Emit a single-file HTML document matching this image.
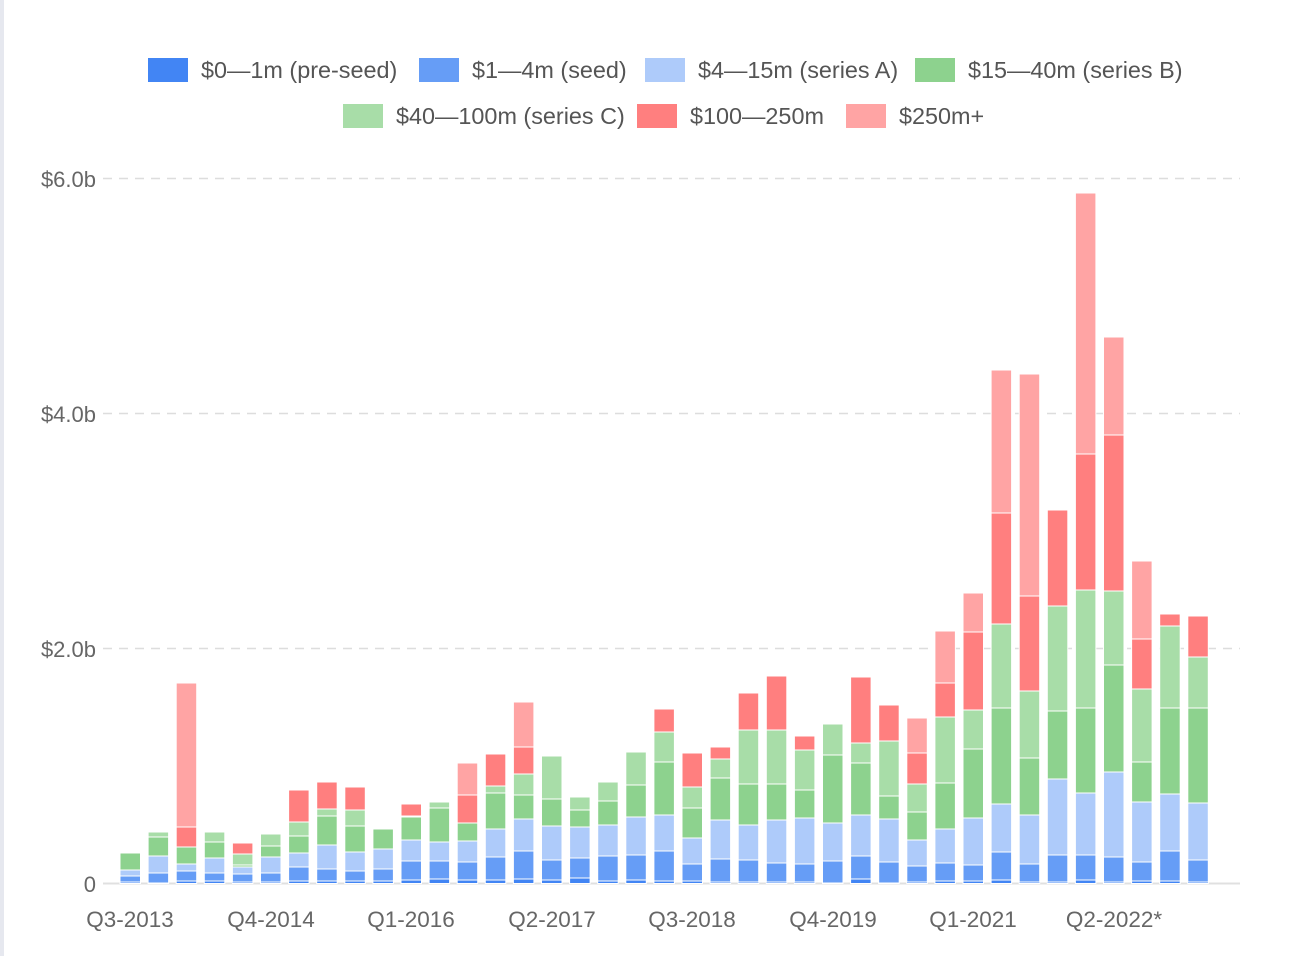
<!DOCTYPE html>
<html><head><meta charset="utf-8"><style>
html,body{margin:0;padding:0;background:#fff;}
body{width:1290px;height:956px;overflow:hidden;position:relative;font-family:"Liberation Sans",sans-serif;}
#edge{position:absolute;left:0;top:0;width:4px;height:956px;background:#e6e8ef;}
</style></head><body>
<div id="edge"></div>
<svg id="c" width="1290" height="956" xmlns="http://www.w3.org/2000/svg" style="position:absolute;left:0;top:0">
<g font-family="Liberation Sans, sans-serif" font-size="23.4" fill="#555">
<rect x="148" y="58" width="40" height="24" fill="#4285f4"/><text x="201" y="78">$0—1m (pre-seed)</text>
<rect x="419" y="58" width="40" height="24" fill="#669df6"/><text x="472" y="78">$1—4m (seed)</text>
<rect x="645" y="58" width="40" height="24" fill="#aecbfa"/><text x="698" y="78">$4—15m (series A)</text>
<rect x="915" y="58" width="40" height="24" fill="#8dd28e"/><text x="968" y="78">$15—40m (series B)</text>
<rect x="343" y="104" width="40" height="24" fill="#a8dda8"/><text x="396" y="124">$40—100m (series C)</text>
<rect x="637" y="104" width="40" height="24" fill="#ff7f7f"/><text x="690" y="124">$100—250m</text>
<rect x="846" y="104" width="40" height="24" fill="#ffa4a4"/><text x="899" y="124">$250m+</text>
</g>
<g stroke="#dddddd" stroke-width="1.5" stroke-dasharray="9,7">
<line x1="103" y1="178.5" x2="1240" y2="178.5"/>
<line x1="103" y1="413.5" x2="1240" y2="413.5"/>
<line x1="103" y1="648.5" x2="1240" y2="648.5"/>
</g>
<line x1="103" y1="883.5" x2="1240" y2="883.5" stroke="#e0e0e0" stroke-width="2"/>
<g font-family="Liberation Sans, sans-serif" font-size="22" fill="#666" text-anchor="end">
<text x="96" y="187">$6.0b</text>
<text x="96" y="422">$4.0b</text>
<text x="96" y="657">$2.0b</text>
<text x="96" y="892">0</text>
</g>
<g id="bars"></g>
<g font-family="Liberation Sans, sans-serif" font-size="22.5" fill="#666" text-anchor="middle">
<text x="130" y="927">Q3-2013</text>
<text x="271" y="927">Q4-2014</text>
<text x="411" y="927">Q1-2016</text>
<text x="552" y="927">Q2-2017</text>
<text x="692" y="927">Q3-2018</text>
<text x="833" y="927">Q4-2019</text>
<text x="973" y="927">Q1-2021</text>
<text x="1114" y="927">Q2-2022*</text>
</g>
</svg>
<script>
var cols=["#4285f4","#669df6","#aecbfa","#8dd28e","#a8dda8","#ff7f7f","#ffa4a4"];
var d=[
[882,876,870,853,852,852,852],
[883,873,856,837,832,832,832],
[881,871,864,847,847,827,683],
[881,873,858,842,832,832,832],
[882,874,867,865,854,843,842],
[882,873,857,846,834,834,834],
[881,867,853,836,822,790,789],
[881,869,845,816,809,782,781],
[881,871,852,826,810,787,786],
[881,869,849,829,828,828,828],
[880,861,840,817,816,804,803],
[879,861,842,808,802,802,801],
[880,862,841,823,823,795,763],
[880,857,829,793,786,754,754],
[879,851,819,795,774,747,702],
[880,860,826,799,756,756,756],
[878,858,827,810,797,797,797],
[881,856,825,801,782,782,782],
[880,855,817,785,752,752,752],
[881,851,815,762,732,709,709],
[881,864,838,808,787,753,753],
[882,859,820,778,759,747,747],
[882,860,825,784,730,693,693],
[882,863,820,784,730,676,676],
[882,864,818,790,750,736,736],
[883,861,823,755,724,724,724],
[879,856,815,763,743,677,676],
[883,862,819,796,741,705,705],
[882,866,840,812,784,753,718],
[881,863,829,783,717,683,631],
[881,865,818,749,710,632,593],
[880,852,804,708,624,513,370],
[882,864,815,758,691,596,374],
[882,855,779,711,606,510,510],
[880,855,793,708,590,454,193],
[882,857,772,665,591,435,337],
[881,862,802,762,689,639,561],
[881,851,794,708,626,614,614],
[882,860,803,708,657,616,616]];
var g=document.getElementById("bars"),s="";
for(var i=0;i<d.length;i++){var x=120+28.1*i,prev=883.5;
for(var k=0;k<7;k++){var t=d[i][k];if(prev-t>0.2){s+='<rect x="'+x.toFixed(1)+'" y="'+t+'" width="20.5" height="'+(prev-t).toFixed(1)+'" fill="'+cols[k]+'" stroke="#fff" stroke-width="1"/>';}prev=t;}}
g.innerHTML=s;
</script>
</body></html>
